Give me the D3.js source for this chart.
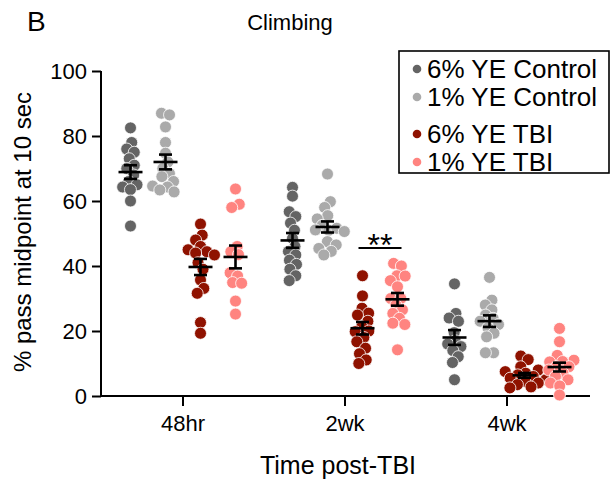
<!DOCTYPE html>
<html>
<head>
<meta charset="utf-8">
<script src="https://cdn.jsdelivr.net/npm/d3@7"></script>
<style>
  body { margin: 0; background: #fff; }
  svg text { font-family: "Liberation Sans", Arial, sans-serif; fill: #000; }
</style>
</head>
<body>
<div id="chart"></div>
<script>
// time points on the x axis and the four diet/injury groups
var timePoints = ["48hr", "2wk", "4wk"];
var groups = ["6% YE Control", "1% YE Control", "6% YE TBI", "1% YE TBI"];
var groupColors = ["#646464", "#aaaaaa", "#8f1200", "#ff8480"];
var yTicks = [0, 20, 40, 60, 80, 100];

// values, one array per time point / group
var ctrl6_48hr = [82.5, 78, 76, 75, 73, 71, 70, 68, 66, 65, 64.3, 63.5, 60, 52.3];
var ctrl1_48hr = [87, 86.5, 82.8, 78, 74.7, 72, 70, 68.5, 67.5, 66, 64.6, 64.3, 63.4, 62.8];
var tbi6_48hr = [52.9, 49.5, 48, 46, 45, 44.4, 44, 43.4, 41, 39, 35.7, 33.1, 31.6, 22.6, 19.3];
var tbi1_48hr = [63.7, 59, 58, 46, 44.4, 43.5, 37.9, 36.9, 34.9, 34.7, 29.2, 25.2];

var ctrl6_2wk = [64.2, 61.5, 56.7, 55.2, 53.2, 51, 48.5, 46, 44.5, 43.4, 41.8, 40.5, 39, 37, 35.5];
var ctrl1_2wk = [68.3, 59.8, 58, 55.5, 54.5, 52.5, 51, 51.6, 51.1, 50.6, 47.5, 46.5, 45.4, 44.5, 43.4];
var tbi6_2wk = [37, 30.8, 27, 25.5, 24.9, 23, 21.3, 20, 19.8, 18, 16.7, 14.7, 13, 11.1, 10];
var tbi1_2wk = [40.8, 40, 37, 36.9, 35.5, 33.6, 30, 30, 28, 26.5, 25.4, 23.9, 22.4, 22, 14.2];

var ctrl6_4wk = [34.5, 25.4, 24, 23, 19.5, 17, 16, 15.2, 14, 12.1, 10.3, 5];
var ctrl1_4wk = [36.5, 29.5, 28, 26.5, 24.9, 23.9, 23, 22, 21, 19.3, 18.2, 13.3, 13.3];
var tbi6_4wk = [12.3, 11.2, 9, 8, 7.5, 7, 6.5, 6, 5.5, 5, 4.5, 4, 3.5, 2.8, 2.5];
var tbi1_4wk = [20.8, 16.7, 12.5, 11, 10.5, 10.6, 9, 9, 8, 7, 6, 5, 4, 3.1, 0.3];

var dataByTime = [
  [ctrl6_48hr, ctrl1_48hr, tbi6_48hr, tbi1_48hr],
  [ctrl6_2wk, ctrl1_2wk, tbi6_2wk, tbi1_2wk],
  [ctrl6_4wk, ctrl1_4wk, tbi6_4wk, tbi1_4wk]
];

var width = 611;
var height = 481;
var dotRadius = 6;

var svg = d3.select("#chart").append("svg")
  .attr("width", width)
  .attr("height", height);

var x = d3.scaleBand().domain(timePoints).range([102, 588]);
var xGroup = d3.scalePoint().domain(groups).range([-52.5, 52.5]);
var y = d3.scaleLinear().domain([0, 100]).range([396, 71]);

// axes
var yAxis = svg.append("g")
  .attr("transform", "translate(101,0)")
  .call(d3.axisLeft(y).tickValues(yTicks).tickSize(9).tickPadding(5));
var xAxis = svg.append("g")
  .attr("transform", "translate(0,396)")
  .call(d3.axisBottom(x).tickSize(10).tickPadding(9));

[yAxis, xAxis].forEach(function(ax){
  ax.select(".domain").attr("stroke", "#000").attr("stroke-width", 2);
  ax.selectAll(".tick line").attr("stroke", "#000").attr("stroke-width", 2);
  ax.selectAll(".tick text")
    .style("font-family", "Liberation Sans, Arial, sans-serif")
    .style("font-size", "22px")
    .attr("fill", "#000");
});
// x axis runs past the last band a little, no outer ticks
xAxis.select(".domain").attr("d", "M101,0H590");
yAxis.select(".domain").attr("d", "M0,396V71");

// dots, laid out as a beeswarm per group
dataByTime.forEach(function(groupValues, ti){
  groupValues.forEach(function(values, gi){
    var cx = x(timePoints[ti]) + x.bandwidth() / 2 + xGroup(groups[gi]);
    var nodes = values.map(function(v, i){
      return {value: v, x: cx + ((i % 2) ? 1 : -1) * (i % 5), y: y(v), fy: y(v)};
    });
    var sim = d3.forceSimulation(nodes)
      .force("x", d3.forceX(cx).strength(0.15))
      .force("collide", d3.forceCollide(4.1))
      .stop();
    for (var k = 0; k < 300; k++) sim.tick();

    svg.append("g").selectAll("circle")
      .data(nodes)
      .enter()
      .append("circle")
      .attr("cx", function(d){ return d.x; })
      .attr("cy", function(d){ return d.fy; })
      .attr("r", dotRadius)
      .attr("fill", groupColors[gi])
      .attr("stroke", "#fff")
      .attr("stroke-width", 0.8);

    // mean and SEM
    var mean = d3.mean(values);
    var sem = d3.deviation(values) / Math.sqrt(values.length);
    var bar = svg.append("g").attr("stroke", "#000").attr("stroke-width", 2.6);
    bar.append("line").attr("x1", cx - 12).attr("x2", cx + 12).attr("y1", y(mean)).attr("y2", y(mean));
    bar.append("line").attr("x1", cx).attr("x2", cx).attr("y1", y(mean - sem)).attr("y2", y(mean + sem));
    bar.append("line").attr("x1", cx - 6.5).attr("x2", cx + 6.5).attr("y1", y(mean - sem)).attr("y2", y(mean - sem));
    bar.append("line").attr("x1", cx - 6.5).attr("x2", cx + 6.5).attr("y1", y(mean + sem)).attr("y2", y(mean + sem));
  });
});

// significance bracket at 2wk between the two TBI groups
var sigY = 248;
var sx1 = x("2wk") + x.bandwidth() / 2 + xGroup(groups[2]) - 4;
var sx2 = x("2wk") + x.bandwidth() / 2 + xGroup(groups[3]) + 4;
svg.append("line")
  .attr("x1", sx1).attr("x2", sx2)
  .attr("y1", sigY).attr("y2", sigY)
  .attr("stroke", "#000").attr("stroke-width", 2);
svg.append("text")
  .attr("x", (sx1 + sx2) / 2).attr("y", sigY + 8)
  .attr("text-anchor", "middle")
  .style("font-size", "32px")
  .text("**");

// labels
svg.append("text")
  .attr("x", 27).attr("y", 31)
  .style("font-size", "28px")
  .text("B");
svg.append("text")
  .attr("x", 290).attr("y", 30)
  .attr("text-anchor", "middle")
  .style("font-size", "22px")
  .text("Climbing");
svg.append("text")
  .attr("x", 338).attr("y", 474)
  .attr("text-anchor", "middle")
  .style("font-size", "25px")
  .text("Time post-TBI");
svg.append("text")
  .attr("transform", "translate(31,232) rotate(-90)")
  .attr("text-anchor", "middle")
  .style("font-size", "24px")
  .text("% pass midpoint at 10 sec");

// legend
var legend = svg.append("g");
legend.append("rect")
  .attr("x", 399).attr("y", 51)
  .attr("width", 210).attr("height", 122)
  .attr("fill", "none")
  .attr("stroke", "#000")
  .attr("stroke-width", 1.6);
var legendRows = [69, 97, 134, 162];
groups.forEach(function(g, i){
  legend.append("circle")
    .attr("cx", 417).attr("cy", legendRows[i])
    .attr("r", 4.3)
    .attr("fill", groupColors[i]);
  legend.append("text")
    .attr("x", 427).attr("y", legendRows[i] + 9)
    .style("font-size", "26px")
    .text(g);
});
</script>
</body>
</html>
